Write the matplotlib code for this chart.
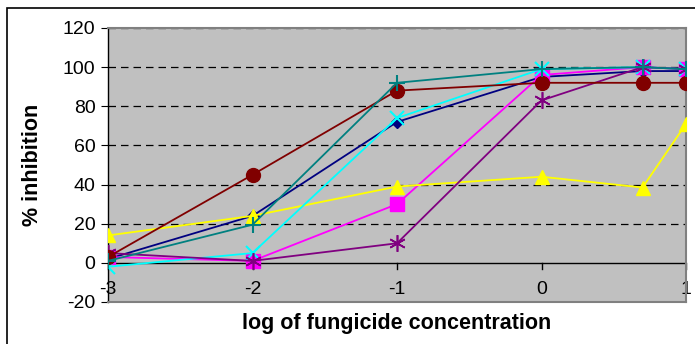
import matplotlib.pyplot as plt
from matplotlib.patches import Rectangle

plt.rcParams['font.family'] = ['Liberation Sans', 'DejaVu Sans']
plt.rcParams['axes.unicode_minus'] = False

x = [-3, -2, -1, 0, 0.699, 1]
navy = [2, 24, 72, 95, 98, 98]
magenta = [3, 1, 30, 96, 100, 99]
yellow = [14, 24, 39, 44, 38.5, 71]
cyan = [-2, 5, 74, 99, 100, 99]
purple = [5, 1, 10, 83, 100, 99]
darkred = [3, 45, 88, 92, 92, 92]
teal = [1, 19.5, 92, 99, 100, 99]

fig = plt.figure(figsize=(6.95, 3.44), dpi=100)
ax = fig.add_axes([108 / 695, 1 - 302 / 344, 578 / 695, 274 / 344])
ax.set_facecolor('#c0c0c0')

# chart border (partly cut off at the right and bottom)
fig.patches.append(Rectangle((7 / 695, -0.5), 1.5, 1.5 - 8 / 344, transform=fig.transFigure,
                             fill=False, edgecolor='black', linewidth=1.2))

ax.plot(x, navy, color='#000080', marker='D', markersize=6, lw=1.3, zorder=3)
ax.plot(x, magenta, color='#ff00ff', marker='s', markersize=10, lw=1.3, zorder=3)
ax.plot(x, yellow, color='#ffff00', marker='^', markersize=10, lw=1.3, zorder=3)
ax.plot(x, cyan, color='#00ffff', marker='x', markersize=10, mew=1.5, lw=1.3, zorder=3)
ax.plot(x, purple, color='#800080', marker=(6, 2, 0), markersize=12, mew=1.2, lw=1.3, zorder=3)
ax.plot(x, darkred, color='#800000', marker='o', markersize=10, lw=1.3, zorder=3)
ax.plot(x, teal, color='#008080', marker='+', markersize=12, mew=1.5, lw=1.3, zorder=3)

ax.set_xlim(-3, 1)
ax.set_ylim(-20, 120)
ax.set_yticks(range(-20, 121, 20))
ax.set_xticks([-3, -2, -1, 0, 1])

for yv in range(20, 121, 20):
    ax.axhline(yv, color='black', lw=0.9, dashes=(6, 4), zorder=1)

for s in ['top', 'right', 'bottom']:
    ax.spines[s].set_color('#808080')
    ax.spines[s].set_linewidth(1.5)
ax.spines['left'].set_color('black')
ax.spines['left'].set_linewidth(1.0)
ax.axhline(0, color='black', lw=1.0, zorder=2)

ax.tick_params(axis='y', direction='out', length=5, labelsize=14, pad=4)
ax.tick_params(axis='x', length=0, labelsize=14, pad=-15)
for xv in [-3, -2, -1, 0, 1]:
    ax.plot([xv, xv], [0, -3], color='black', lw=1.0, clip_on=False, zorder=2)

ax.set_xlabel('log of fungicide concentration', fontsize=15.5, fontweight='bold', labelpad=8)
ax.set_ylabel('% inhibition', fontsize=15.5, fontweight='bold', labelpad=14)

fig.savefig('out.png', dpi=100)
